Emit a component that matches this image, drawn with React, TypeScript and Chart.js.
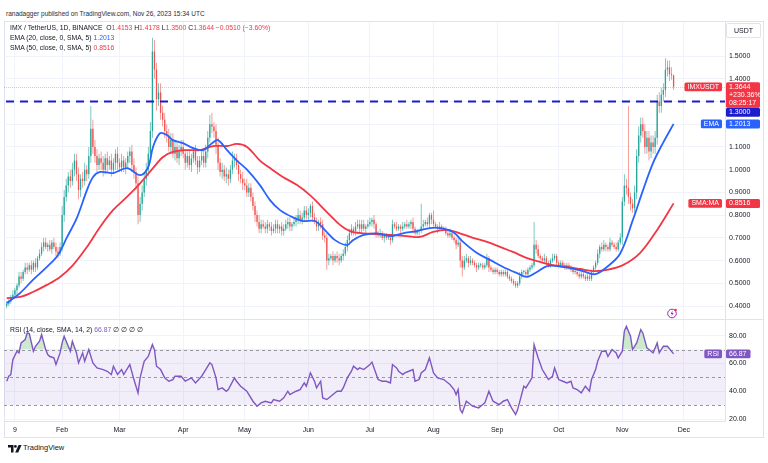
import React, { useEffect, useRef } from "react";
import { Chart, registerables } from "chart.js";

Chart.register(...registerables);

// ---------------- data (day index: 0 = 1 Jan 2023) ----------------
const firstDay = 4; // first candle: 5 Jan 2023
const firstOpen = 0.4;

// daily closes, 5 Jan .. 26 Nov 2023
const closes = [
  // Jan
  0.41, 0.42, 0.44, 0.45, 0.47, 0.49, 0.53, 0.52, 0.55, 0.57, 0.56, 0.58, 0.56, 0.59, 0.57, 0.61, 0.63, 0.66, 0.68, 0.66, 0.67, 0.65, 0.68, 0.66, 0.64, 0.63, 0.66,
  // Feb
  0.8, 0.88, 0.93, 0.97, 0.95, 1.0, 1.04, 0.98, 0.91, 0.96, 0.95, 1.0, 0.98, 1.06, 1.18, 1.1, 1.06, 1.02, 1.05, 1.03, 1.0, 1.05, 1.02, 1.04, 1.0, 1.03, 1.07, 1.03,
  // Mar
  1.01, 1.04, 1.01, 1.03, 1.06, 1.08, 1.02, 0.99, 0.94, 0.8, 0.85, 0.9, 0.96, 1.0, 1.07, 1.17, 1.52, 1.44, 1.31, 1.34, 1.25, 1.22, 1.17, 1.15, 1.1, 1.13, 1.07, 1.1, 1.05, 1.08, 1.1,
  // Apr
  1.07, 1.03, 1.06, 1.02, 1.05, 1.08, 1.04, 1.01, 1.04, 1.06, 1.03, 1.08, 1.14, 1.2, 1.19, 1.17, 1.11, 1.03, 0.99, 1.0, 0.97, 0.98, 0.96, 1.0, 1.04, 1.05, 1.02, 0.98, 0.96, 0.94,
  // May
  0.93, 0.9, 0.92, 0.88, 0.84, 0.8, 0.77, 0.74, 0.76, 0.75, 0.74, 0.76, 0.75, 0.73, 0.74, 0.76, 0.74, 0.75, 0.73, 0.74, 0.76, 0.77, 0.75, 0.76, 0.77, 0.78, 0.8, 0.78, 0.79, 0.82, 0.8,
  // Jun
  0.81, 0.84, 0.79, 0.77, 0.75, 0.77, 0.76, 0.71, 0.7, 0.6, 0.61, 0.62, 0.6, 0.62, 0.61, 0.6, 0.62, 0.63, 0.66, 0.69, 0.72, 0.74, 0.73, 0.75, 0.76, 0.74, 0.76, 0.74, 0.75, 0.76,
  // Jul
  0.77, 0.78, 0.76, 0.72, 0.71, 0.72, 0.7, 0.71, 0.7, 0.7, 0.69, 0.76, 0.75, 0.74, 0.75, 0.74, 0.75, 0.76, 0.75, 0.76, 0.77, 0.74, 0.72, 0.73, 0.73, 0.75, 0.76, 0.77, 0.76, 0.8, 0.78,
  // Aug
  0.76, 0.75, 0.74, 0.75, 0.74, 0.74, 0.72, 0.71, 0.72, 0.7, 0.69, 0.67, 0.68, 0.6, 0.57, 0.6, 0.61, 0.59, 0.6, 0.59, 0.58, 0.57, 0.58, 0.58, 0.57, 0.58, 0.61, 0.57, 0.56, 0.55, 0.56,
  // Sep
  0.55, 0.54, 0.55, 0.54, 0.55, 0.53, 0.52, 0.51, 0.5, 0.49, 0.5, 0.53, 0.55, 0.55, 0.54, 0.56, 0.57, 0.58, 0.67, 0.65, 0.62, 0.61, 0.6, 0.61, 0.59, 0.58, 0.6, 0.61, 0.62, 0.59,
  // Oct
  0.58, 0.59, 0.58, 0.57, 0.58, 0.57, 0.56, 0.55, 0.55, 0.54, 0.53, 0.54, 0.53, 0.52, 0.53, 0.52, 0.55, 0.57, 0.59, 0.63, 0.66, 0.65, 0.67, 0.66, 0.65, 0.68, 0.67, 0.66, 0.65, 0.68, 0.7,
  // Nov
  0.86, 0.93, 0.92, 0.88, 0.85, 0.83, 0.9, 1.06, 1.15, 1.2, 1.17, 1.1, 1.14, 1.08, 1.12, 1.1, 1.14, 1.3, 1.28, 1.33, 1.35, 1.44, 1.45, 1.42, 1.4153, 1.3644,
];

// upper wick above the body top, in hundredths
const wickUp = [
  1, 1, 1, 2, 1, 1, 2, 2, 1, 2, 2, 1, 2, 1, 2, 1, 2, 2, 2, 2, 1, 2, 1, 2, 2, 2, 2,
  4, 3, 3, 2, 3, 3, 3, 3, 3, 2, 3, 3, 2, 4, 10, 4, 3, 3, 2, 3, 3, 2, 3, 2, 3, 2, 2, 3,
  2, 3, 2, 2, 2, 2, 3, 3, 2, 3, 3, 3, 3, 3, 3, 4, 6, 5, 3, 4, 4, 3, 3, 3, 3, 3, 3, 3, 2, 3, 3,
  3, 2, 2, 3, 2, 2, 3, 2, 2, 2, 3, 3, 3, 4, 5, 2, 3, 3, 2, 3, 2, 3, 2, 2, 4, 2, 2, 2, 2, 3,
  2, 3, 2, 2, 2, 2, 2, 3, 2, 2, 2, 2, 1, 2, 2, 2, 2, 1, 2, 2, 2, 2, 2, 1, 2, 2, 3, 2, 2, 2, 2,
  2, 1, 2, 2, 2, 1, 2, 2, 2, 2, 2, 1, 2, 1, 2, 2, 1, 2, 2, 2, 2, 2, 1, 2, 2, 2, 2, 2, 1, 2,
  2, 1, 2, 1, 1, 2, 1, 1, 1, 1, 1, 2, 1, 2, 1, 1, 2, 1, 2, 1, 1, 2, 1, 1, 1, 10, 2, 1, 2, 1, 1,
  4, 1, 1, 2, 1, 1, 1, 1, 2, 1, 1, 1, 2, 1, 2, 2, 2, 1, 2, 1, 1, 1, 1, 1, 1, 1, 2, 1, 1, 1, 1,
  1, 1, 1, 1, 1, 1, 1, 1, 1, 1, 1, 2, 1, 1, 1, 1, 1, 1, 10, 2, 2, 1, 1, 2, 1, 1, 1, 2, 1, 1,
  1, 1, 1, 1, 1, 1, 1, 1, 1, 1, 1, 1, 1, 1, 1, 1, 1, 1, 1, 2, 1, 2, 2, 1, 1, 2, 1, 1, 2, 1, 2,
  2, 5, 3, 36, 2, 2, 3, 3, 4, 3, 3, 3, 3, 3, 3, 3, 3, 3, 4, 3, 3, 5, 3, 3, 3, 0.25,
];

// lower wick below the body bottom, in hundredths
const wickDown = [
  1, 1, 1, 1, 1, 2, 1, 2, 1, 1, 2, 1, 2, 1, 2, 1, 1, 1, 2, 1, 2, 1, 2, 1, 2, 2, 1,
  2, 3, 2, 3, 3, 2, 3, 3, 4, 3, 3, 2, 3, 2, 3, 3, 3, 3, 2, 3, 3, 2, 3, 2, 3, 2, 3, 3,
  2, 2, 2, 3, 2, 3, 3, 3, 3, 4, 3, 3, 2, 3, 3, 2, 3, 4, 5, 3, 3, 3, 3, 3, 2, 3, 2, 3, 2, 3, 2,
  2, 3, 2, 2, 3, 2, 2, 3, 2, 2, 2, 2, 3, 2, 3, 3, 4, 3, 2, 3, 2, 3, 3, 2, 2, 3, 2, 3, 2, 3,
  2, 2, 2, 2, 2, 3, 2, 2, 2, 1, 2, 2, 2, 2, 1, 2, 2, 2, 2, 2, 1, 2, 2, 2, 1, 2, 2, 2, 2, 2, 2,
  2, 2, 2, 1, 2, 2, 2, 2, 2, 4, 2, 1, 2, 1, 2, 2, 1, 2, 1, 2, 2, 1, 2, 2, 1, 2, 2, 1, 2, 1,
  1, 2, 2, 2, 1, 1, 1, 2, 1, 1, 2, 1, 1, 1, 1, 2, 1, 1, 1, 1, 2, 2, 1, 1, 2, 1, 1, 1, 1, 2, 2,
  1, 1, 2, 1, 1, 1, 1, 1, 1, 1, 1, 2, 1, 3, 4, 1, 1, 2, 1, 1, 1, 2, 1, 1, 1, 1, 1, 2, 1, 1, 1,
  1, 1, 1, 1, 1, 1, 1, 1, 1, 1, 1, 1, 1, 1, 1, 1, 1, 1, 1, 2, 1, 1, 1, 1, 1, 1, 1, 1, 1, 1,
  1, 1, 1, 1, 1, 1, 1, 1, 1, 1, 1, 1, 1, 1, 1, 1, 1, 1, 1, 1, 2, 1, 1, 2, 1, 1, 1, 1, 1, 1, 1,
  3, 2, 3, 3, 3, 2, 2, 3, 3, 3, 3, 3, 3, 4, 3, 3, 3, 3, 3, 3, 3, 3, 3, 3, 2, 1.44,
];

// EMA (20)
const emaDays = [4, 10.5, 16.8, 23.6, 29, 33.4, 38.3, 43.1, 46.1, 49.5, 55.8, 62.6, 69, 72.9, 75.3, 78.7, 82.1, 85, 89.9, 94.8, 99.7, 104.5, 107, 111.4, 116.2, 121.1, 127.4, 132.3, 137.2, 143.5, 148.4, 154.2, 159.1, 164, 169.8, 172.8, 177.6, 184.5, 190.8, 197.1, 204, 210.3, 215.2, 221.5, 226.4, 233.2, 239.5, 245.9, 252.7, 257.6, 262.4, 267.3, 272.2, 278.5, 284.8, 290.7, 296.5, 302.9, 309.2, 314.1, 319, 323.8, 329];
const emaValues = [0.413, 0.457, 0.515, 0.572, 0.625, 0.703, 0.79, 0.91, 0.968, 0.99, 0.985, 1.007, 0.976, 1.01, 1.1, 1.16, 1.152, 1.13, 1.117, 1.095, 1.086, 1.12, 1.13, 1.086, 1.04, 1.0, 0.932, 0.866, 0.822, 0.79, 0.774, 0.774, 0.734, 0.69, 0.668, 0.69, 0.712, 0.72, 0.708, 0.72, 0.73, 0.743, 0.743, 0.726, 0.682, 0.633, 0.603, 0.572, 0.545, 0.528, 0.55, 0.576, 0.576, 0.567, 0.554, 0.54, 0.572, 0.63, 0.78, 0.91, 1.03, 1.117, 1.2013];

// SMA (50)
const smaDays = [4, 10.5, 16.8, 23.6, 30, 36.3, 43.1, 49.5, 55.8, 62.6, 69, 75.3, 80.2, 85, 91.9, 98.2, 104.5, 111.4, 116.2, 121.1, 127.4, 132.3, 138.6, 145.5, 151.8, 156.7, 161.5, 166.4, 171.3, 177.6, 184.5, 192.2, 199.1, 205.4, 211.8, 218.6, 224.9, 231.2, 238.1, 244.4, 250.7, 257.6, 263.9, 270.2, 277, 283.4, 289.7, 296.5, 304.3, 312.6, 321, 329];
const smaValues = [0.435, 0.44, 0.462, 0.493, 0.528, 0.58, 0.66, 0.748, 0.822, 0.88, 0.94, 1.007, 1.056, 1.078, 1.086, 1.086, 1.104, 1.104, 1.113, 1.1, 1.04, 1.007, 0.968, 0.932, 0.888, 0.844, 0.8, 0.757, 0.73, 0.72, 0.717, 0.712, 0.708, 0.704, 0.726, 0.735, 0.72, 0.7, 0.682, 0.66, 0.638, 0.611, 0.594, 0.58, 0.572, 0.563, 0.554, 0.559, 0.58, 0.633, 0.735, 0.8516];

// RSI (14)
const rsiDays = [4, 5, 6, 7, 9, 10, 11, 13, 14, 15, 17, 18, 20, 21, 23, 24, 25, 27, 28, 30, 31, 32, 34, 35, 36, 38, 39, 41, 42, 44, 46, 48, 51, 53, 55, 56, 58, 60, 61, 63, 64, 66, 68, 69, 71, 73, 75, 76, 77, 79, 81, 83, 85, 86, 89, 91, 94, 96, 99, 101, 103, 104, 106, 107, 109, 111, 112, 115, 116, 118, 121, 124, 126, 128, 130, 133, 134, 137, 139, 141, 142, 145, 147, 149, 150, 152, 154, 155, 157, 158, 160, 162, 163, 165, 167, 168, 170, 172, 173, 175, 176, 178, 180, 181, 182, 183, 185, 187, 189, 191, 192, 194, 195, 197, 198, 200, 202, 203, 205, 206, 208, 210, 212, 214, 217, 220, 222, 223, 224, 225, 226, 228, 231, 234, 236, 237, 239, 241, 244, 246, 248, 250, 252, 253, 256, 257, 260, 261, 263, 265, 266, 268, 270, 271, 273, 275, 277, 279, 280, 282, 284, 286, 288, 289, 291, 292, 294, 296, 297, 299, 301, 302, 304, 305, 306, 308, 309, 311, 313, 314, 316, 317, 319, 321, 322, 324, 326, 329];
const rsiValues = [47.2, 50.8, 52, 62.8, 68.8, 67.6, 74.8, 77.2, 82, 81.5, 68.8, 72.4, 76, 80.8, 70, 66.4, 65, 64, 59.2, 67.6, 74.8, 79.6, 72.4, 68.8, 76, 67.6, 60.4, 67.6, 61.6, 70, 60.4, 56.8, 55.6, 54.4, 52, 58, 52, 55.6, 52, 56.8, 59.2, 48.4, 38.8, 49.6, 61.6, 65, 73.6, 70, 58, 55.6, 49.6, 47.2, 48.4, 50.8, 50.8, 47.2, 49.6, 46, 50.8, 55.6, 60.4, 59.2, 49.6, 41.2, 42.4, 40, 41.2, 49.6, 47.2, 43.6, 40, 32.8, 29.2, 31.6, 32.8, 31.6, 34, 32.8, 35.2, 40, 37.6, 40, 41.2, 46, 43.6, 53.2, 47.2, 42.4, 47.2, 35.2, 34, 36.4, 37.6, 40, 40, 42.4, 49.6, 54.4, 58, 55.6, 56.8, 55.6, 58, 59.2, 61, 56.8, 48.4, 47.2, 47.2, 46, 59.2, 56.8, 54.4, 52, 53.2, 54.4, 55.6, 47.2, 48.4, 53.2, 55.6, 64, 53.2, 49.6, 48.4, 44.8, 41.2, 37.6, 41.2, 26.8, 24.4, 32.8, 29.2, 28, 30.4, 31.6, 40, 32.8, 30.4, 32.8, 34, 28, 23.2, 26.8, 43.6, 42.4, 49.6, 73.6, 64, 55.6, 53.2, 48.4, 50.8, 56.8, 48.4, 47.2, 46, 47.2, 42.4, 41.2, 38.8, 43.6, 40, 48.4, 55.6, 61.6, 68.8, 68.8, 65, 70, 67.6, 64, 68.8, 83.2, 86.8, 79.6, 70, 74.8, 84.4, 82, 71.2, 70, 67.6, 74.8, 67.6, 72.4, 72.4, 66.87];

const monthTickDays = [8, 31, 59, 90, 120, 151, 181, 212, 243, 273, 304, 334];
const monthTickLabels = ["9", "Feb", "Mar", "Apr", "May", "Jun", "Jul", "Aug", "Sep", "Oct", "Nov", "Dec"];
const priceTicks = [0.4, 0.5, 0.6, 0.7, 0.8, 0.9, 1.0, 1.1, 1.2, 1.3, 1.4, 1.5];
const rsiTicks = [20, 40, 60, 80];
const rsiLevels = [70, 50, 30];

const resistanceLevel = 1.3;
const lastPrice = 1.3644;
const lastEma = 1.2013;
const lastSma = 0.8516;
const lastRsi = 66.87;
const lastOpen = 1.4153;
const lastHigh = 1.4178;
const lastLow = 1.35;
const priceChange = "\u22120.0510 (\u22123.60%)";
const changeSinceStart = "+230.36%";
const countdown = "08:25:17";

// ---------------- styling ----------------
const FONT = "'Liberation Sans', Arial, sans-serif";
const TEXT = "#131722";
const GRID = "#f0f3fa";
const BORDER = "#e0e3eb";
const UP = "#26a69a";
const DOWN = "#ef5350";
const EMA_C = "#2962ff";
const SMA_C = "#f23645";
const RSI_C = "#7e57c2";
const RED = "#f23645";
const LINE_BLUE = "#1c1ccc";

const X_MIN = 2.68;
const X_MAX = 354.05;
const P_MIN = 0.343;
const P_MAX = 1.6496;
const R_MIN = 18.56;
const R_MAX = 91.3;
const AXIS_W = 38;

type Candle = { d: number; o: number; c: number; hi: number; lo: number };
const candles: Candle[] = closes.map((c, i) => {
  const o = i === 0 ? firstOpen : closes[i - 1];
  return {
    d: firstDay + i,
    o,
    c,
    hi: Math.max(o, c) + wickUp[i] / 100,
    lo: Math.min(o, c) - wickDown[i] / 100,
  };
});

function box(ctx: CanvasRenderingContext2D, x: number, y: number, w: number, h: number, fill: string, stroke?: string) {
  ctx.beginPath();
  (ctx as any).roundRect(x, y, w, h, 1.5);
  ctx.fillStyle = fill;
  ctx.fill();
  if (stroke) {
    ctx.strokeStyle = stroke;
    ctx.lineWidth = 1;
    ctx.stroke();
  }
}

const mainOverlay = {
  id: "mainOverlay",
  beforeDatasetsDraw(chart: any) {
    const { ctx, chartArea: a } = chart;
    const y = chart.scales.y;
    const py = Math.round(y.getPixelForValue(lastPrice)) + 0.5;
    ctx.save();
    ctx.strokeStyle = "rgba(242,54,69,0.35)";
    ctx.lineWidth = 1;
    ctx.setLineDash([1, 1]);
    ctx.beginPath();
    ctx.moveTo(a.left, py);
    ctx.lineTo(a.right, py);
    ctx.stroke();
    ctx.restore();
  },
  afterDatasetsDraw(chart: any) {
    const { ctx, chartArea: a } = chart;
    const y = chart.scales.y;
    const ry = y.getPixelForValue(resistanceLevel);
    ctx.save();
    ctx.strokeStyle = LINE_BLUE;
    ctx.lineWidth = 2;
    ctx.setLineDash([8, 6]);
    ctx.lineDashOffset = -2;
    ctx.beginPath();
    ctx.moveTo(a.left, ry);
    ctx.lineTo(a.right, ry);
    ctx.stroke();
    ctx.restore();
  },
  afterDraw(chart: any) {
    const { ctx, chartArea: a } = chart;
    const y = chart.scales.y;
    const ax = y.left;
    ctx.save();
    ctx.font = `7px ${FONT}`;
    ctx.textBaseline = "middle";
    ctx.textAlign = "left";

    const pY = y.getPixelForValue(lastPrice);
    const redTop = pY - 4.5;
    const redH = 25.5;
    const blueTop = redTop + redH;
    const bh = 9;
    const emaY = y.getPixelForValue(lastEma);
    const smaY = y.getPixelForValue(lastSma);
    const occupied = [
      { top: redTop, h: redH },
      { top: blueTop, h: bh },
      { top: emaY - bh / 2, h: bh },
      { top: smaY - bh / 2, h: bh },
    ];

    ctx.fillStyle = TEXT;
    priceTicks.forEach((v) => {
      const ty = y.getPixelForValue(v);
      const hidden = occupied.some((b) => ty + 3.5 > b.top && ty - 3.5 < b.top + b.h);
      if (!hidden) ctx.fillText(v.toFixed(4), ax + 4, ty);
    });

    box(ctx, ax + 1.5, 1.5, 34, 14, "#ffffff", BORDER);
    ctx.fillStyle = TEXT;
    ctx.textAlign = "center";
    ctx.fillText("USDT", ax + 18.5, 8.8);
    ctx.textAlign = "left";

    box(ctx, ax + 1, redTop, 34, redH, RED);
    ctx.fillStyle = "#ffffff";
    ctx.fillText(lastPrice.toFixed(4), ax + 4, pY);
    ctx.fillText(changeSinceStart, ax + 4, pY + 8.3);
    ctx.fillText(countdown, ax + 4, pY + 16.3);

    box(ctx, ax + 1, blueTop, 34, bh, LINE_BLUE);
    ctx.fillStyle = "#ffffff";
    ctx.fillText(resistanceLevel.toFixed(4), ax + 4, blueTop + bh / 2);

    box(ctx, ax + 1, emaY - bh / 2, 34, bh, EMA_C);
    ctx.fillStyle = "#ffffff";
    ctx.fillText(lastEma.toFixed(4), ax + 4, emaY);

    box(ctx, ax + 1, smaY - bh / 2, 34, bh, SMA_C);
    ctx.fillStyle = "#ffffff";
    ctx.fillText(lastSma.toFixed(4), ax + 4, smaY);

    const leftLabel = (txt: string, cy: number, color: string) => {
      const w = ctx.measureText(txt).width + 6;
      box(ctx, a.right - 3 - w, cy - 4.3, w, 8.6, color);
      ctx.fillStyle = "#ffffff";
      ctx.fillText(txt, a.right - w, cy);
    };
    leftLabel("IMXUSDT", pY, RED);
    leftLabel("EMA", emaY, EMA_C);
    leftLabel("SMA:MA", smaY, SMA_C);
    ctx.restore();
  },
};

const rsiOverlay = {
  id: "rsiOverlay",
  beforeDatasetsDraw(chart: any) {
    const { ctx, chartArea: a } = chart;
    const y = chart.scales.y;
    const top = y.getPixelForValue(rsiLevels[0]);
    const bot = y.getPixelForValue(rsiLevels[2]);
    ctx.save();
    ctx.fillStyle = "rgba(126,87,194,0.1)";
    ctx.fillRect(a.left, top, a.right - a.left, bot - top);
    ctx.strokeStyle = "#9598a1";
    ctx.lineWidth = 1;
    ctx.setLineDash([3, 3]);
    rsiLevels.forEach((lv) => {
      const ly = Math.round(y.getPixelForValue(lv)) + 0.5;
      ctx.beginPath();
      ctx.moveTo(a.left, ly);
      ctx.lineTo(a.right, ly);
      ctx.stroke();
    });
    ctx.restore();
  },
  afterDraw(chart: any) {
    const { ctx, chartArea: a } = chart;
    const y = chart.scales.y;
    const ax = y.left;
    ctx.save();
    ctx.font = `7px ${FONT}`;
    ctx.textBaseline = "middle";
    ctx.textAlign = "left";
    ctx.fillStyle = TEXT;
    rsiTicks.forEach((v) => ctx.fillText(v.toFixed(2), ax + 4, y.getPixelForValue(v)));
    const ry = y.getPixelForValue(lastRsi);
    const txt = lastRsi.toFixed(2);
    const w = ctx.measureText(txt).width + 7;
    box(ctx, ax + 1, ry - 4.3, w, 8.6, RSI_C);
    ctx.fillStyle = "#ffffff";
    ctx.fillText(txt, ax + 4, ry);
    const lw = ctx.measureText("RSI").width + 6;
    box(ctx, a.right - 3 - lw, ry - 4.3, lw, 8.6, RSI_C);
    ctx.fillStyle = "#ffffff";
    ctx.fillText("RSI", a.right - lw, ry);
    ctx.restore();
  },
};

function setMonthTicks(scale: any) {
  scale.ticks = monthTickDays.map((v) => ({ value: v }));
}

function mainConfig(): any {
  return {
    type: "bar",
    data: {
      datasets: [
        {
          type: "line",
          label: "EMA",
          data: emaDays.map((d, i) => ({ x: d, y: emaValues[i] })),
          borderColor: EMA_C,
          borderWidth: 1.8,
          pointRadius: 0,
          tension: 0.35,
          order: 1,
        },
        {
          type: "line",
          label: "SMA",
          data: smaDays.map((d, i) => ({ x: d, y: smaValues[i] })),
          borderColor: SMA_C,
          borderWidth: 1.8,
          pointRadius: 0,
          tension: 0.35,
          order: 2,
        },
        {
          type: "bar",
          label: "body",
          data: candles.map((k) => ({ x: k.d, y: [Math.min(k.o, k.c), Math.max(k.o, k.c)] })),
          backgroundColor: candles.map((k) => (k.c >= k.o ? UP : DOWN)),
          borderWidth: 0,
          barThickness: 1.3,
          inflateAmount: 0,
          minBarLength: 1,
          grouped: false,
          order: 3,
        },
        {
          type: "bar",
          label: "wick",
          data: candles.map((k) => ({ x: k.d, y: [k.lo, k.hi] })),
          backgroundColor: candles.map((k) => (k.c >= k.o ? "rgba(38,166,154,0.75)" : "rgba(239,83,80,0.7)")),
          borderWidth: 0,
          barThickness: 0.8,
          inflateAmount: 0,
          grouped: false,
          order: 4,
        },
      ],
    },
    options: {
      responsive: false,
      maintainAspectRatio: false,
      animation: false,
      events: [],
      layout: { padding: 0 },
      plugins: { legend: { display: false }, tooltip: { enabled: false } },
      scales: {
        x: {
          type: "linear",
          min: X_MIN,
          max: X_MAX,
          offset: false,
          ticks: { display: false },
          grid: { color: GRID, drawTicks: false, offset: false },
          border: { display: false },
          afterBuildTicks: setMonthTicks,
          afterFit: (s: any) => {
            s.height = 0;
          },
        },
        y: {
          type: "linear",
          position: "right",
          min: P_MIN,
          max: P_MAX,
          ticks: { display: false },
          grid: { color: GRID, drawTicks: false },
          border: { color: BORDER },
          afterBuildTicks: (s: any) => {
            s.ticks = priceTicks.map((v) => ({ value: v }));
          },
          afterFit: (s: any) => {
            s.width = AXIS_W;
          },
        },
      },
    },
    plugins: [mainOverlay],
  };
}

function rsiConfig(): any {
  const pts = rsiDays.map((d, i) => ({ x: d, y: rsiValues[i] }));
  return {
    type: "line",
    data: {
      datasets: [
        {
          data: pts,
          borderColor: RSI_C,
          borderWidth: 1.4,
          pointRadius: 0,
          tension: 0,
          fill: { target: { value: 70 }, above: "rgba(76,175,80,0.28)", below: "rgba(0,0,0,0)" },
        },
        {
          data: pts,
          borderColor: "rgba(0,0,0,0)",
          borderWidth: 1,
          pointRadius: 0,
          tension: 0,
          fill: { target: { value: 30 }, above: "rgba(0,0,0,0)", below: "rgba(242,54,69,0.1)" },
        },
      ],
    },
    options: {
      responsive: false,
      maintainAspectRatio: false,
      animation: false,
      events: [],
      layout: { padding: 0 },
      plugins: { legend: { display: false }, tooltip: { enabled: false } },
      scales: {
        x: {
          type: "linear",
          min: X_MIN,
          max: X_MAX,
          offset: false,
          ticks: {
            autoSkip: false,
            maxRotation: 0,
            font: { family: FONT, size: 7 },
            color: TEXT,
            padding: 5,
            callback: (_v: any, i: number) => monthTickLabels[i],
          },
          grid: { color: GRID, drawTicks: false },
          border: { color: BORDER },
          afterBuildTicks: setMonthTicks,
          afterFit: (s: any) => {
            s.height = 16;
          },
        },
        y: {
          type: "linear",
          position: "right",
          min: R_MIN,
          max: R_MAX,
          ticks: { display: false },
          grid: { color: GRID, drawTicks: false },
          border: { color: BORDER },
          afterBuildTicks: (s: any) => {
            s.ticks = rsiTicks.map((v) => ({ value: v }));
          },
          afterFit: (s: any) => {
            s.width = AXIS_W;
          },
        },
      },
    },
    plugins: [rsiOverlay],
  };
}

const legendLine: React.CSSProperties = {
  position: "absolute",
  left: 10,
  fontSize: 6.8,
  lineHeight: "8px",
  whiteSpace: "nowrap",
  color: TEXT,
};

export default function App() {
  const mainRef = useRef<HTMLCanvasElement>(null);
  const rsiRef = useRef<HTMLCanvasElement>(null);

  useEffect(() => {
    const main = new Chart(mainRef.current as HTMLCanvasElement, mainConfig());
    const rsi = new Chart(rsiRef.current as HTMLCanvasElement, rsiConfig());
    return () => {
      main.destroy();
      rsi.destroy();
    };
  }, []);

  const red = { color: RED };
  return (
    <div
      style={{
        position: "absolute",
        left: 0,
        top: 0,
        width: 768,
        height: 463,
        background: "#ffffff",
        fontFamily: FONT,
        color: TEXT,
        overflow: "hidden",
      }}
    >
      <div style={{ position: "absolute", left: 6, top: 10, fontSize: 6.5, lineHeight: "8px", whiteSpace: "nowrap", color: "#2a2e39" }}>
        ranadagger published on TradingView.com, Nov 26, 2023 15:34 UTC
      </div>

      <div style={{ position: "absolute", left: 3.5, top: 21, width: 760, height: 417, border: `1px solid ${BORDER}`, boxSizing: "border-box" }} />

      <canvas ref={mainRef} width={759} height={297} style={{ position: "absolute", left: 4, top: 22 }} />
      <div style={{ position: "absolute", left: 4, top: 319, width: 759, height: 1, background: BORDER }} />
      <canvas ref={rsiRef} width={759} height={117} style={{ position: "absolute", left: 4, top: 320 }} />

      <div style={{ ...legendLine, top: 23.5 }}>
        IMX / TetherUS, 1D, BINANCE&nbsp; O<span style={red}>{lastOpen.toFixed(4)}</span> H<span style={red}>{lastHigh.toFixed(4)}</span> L
        <span style={red}>{lastLow.toFixed(4)}</span> C<span style={red}>{lastPrice.toFixed(4)}</span> <span style={red}>{priceChange}</span>
      </div>
      <div style={{ ...legendLine, top: 34.3 }}>
        EMA (20, close, 0, SMA, 5) <span style={{ color: EMA_C }}>{lastEma.toFixed(4)}</span>
      </div>
      <div style={{ ...legendLine, top: 44 }}>
        SMA (50, close, 0, SMA, 5) <span style={red}>{lastSma.toFixed(4)}</span>
      </div>
      <div style={{ ...legendLine, top: 326 }}>
        RSI (14, close, SMA, 14, 2) <span style={{ color: RSI_C }}>{lastRsi.toFixed(2)}</span> &#8709; &#8709; &#8709; &#8709;
      </div>

      <svg style={{ position: "absolute", left: 666, top: 306.5 }} width="12" height="12" viewBox="0 0 12 12">
        <circle cx="6" cy="6.5" r="4.3" fill="none" stroke="#9c27b0" strokeWidth="1" />
        <path d="M6.6 3.6 L4.6 6.9 L6 6.9 L5.4 9.3 L7.6 5.9 L6.2 5.9 Z" fill="#9c27b0" />
        <circle cx="9.6" cy="3" r="1.3" fill="#f23645" />
      </svg>

      <svg style={{ position: "absolute", left: 8, top: 444.5 }} width="14" height="8" viewBox="0 0 14 8">
        <path d="M0 0 H5.5 V7.5 H3 V2.5 H0 Z" fill={TEXT} />
        <circle cx="7.4" cy="1.4" r="1.4" fill={TEXT} />
        <path d="M10.6 0 H13.6 L10.2 7.5 H7.2 Z" fill={TEXT} />
      </svg>
      <div style={{ position: "absolute", left: 23, top: 444, fontSize: 7.5, lineHeight: "8px", color: TEXT, whiteSpace: "nowrap" }}>
        TradingView
      </div>
    </div>
  );
}
